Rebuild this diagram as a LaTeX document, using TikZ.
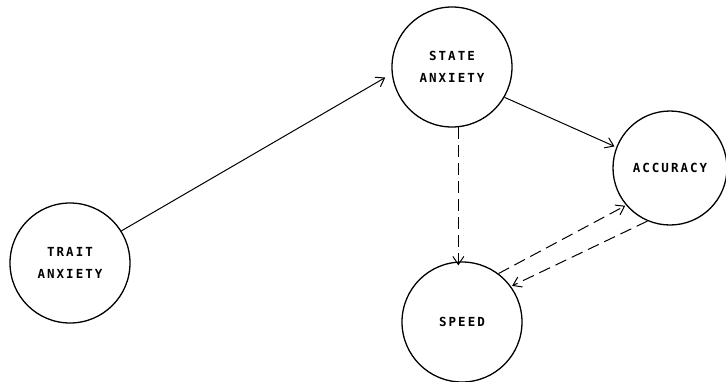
\documentclass[tikz,border=0pt]{standalone}
\usepackage{fontspec}
\newfontfamily\plotfont[LetterSpace=16]{DejaVu Sans Mono Bold}
\usetikzlibrary{arrows.meta}
\begin{document}
\begin{tikzpicture}[x=1pt,y=-1pt,
  state/.style={circle,draw,line width=1.3pt,minimum size=120pt,inner sep=0pt,
    font=\plotfont\fontsize{12.5}{21.5}\selectfont,align=center},
  link/.style={line width=1pt,-{Straight Barb[length=8pt,width=11pt,line width=1pt]}},
  dlink/.style={link,dash pattern=on 12pt off 6pt}]
\useasboundingbox (0,0) rectangle (726,381);
\node[state] (trait) at (70,263) {TRAIT\\ANXIETY};
\node[state] (stateanx) at (452,67) {STATE\\ANXIETY};
\node[state,minimum size=114pt] (acc) at (670,168) {ACCURACY};
\node[state] (speed) at (462,322) {SPEED};
\draw[link] (trait.32) -- ([shift={(-7pt,0)}]stateanx.190);
\draw[link] (stateanx.-30) -- ([shift={(-2pt,0)}]acc.158);
\draw[dlink] (stateanx.-84) -- ([yshift=-4pt]stateanx.-84 |- speed.north);
\draw[dlink] (speed.53) -- ([shift={(-4pt,3pt)}]acc.-135);
\draw[dlink] (acc.-113) -- ([shift={(3pt,-2pt)}]speed.39);
\end{tikzpicture}
\end{document}
